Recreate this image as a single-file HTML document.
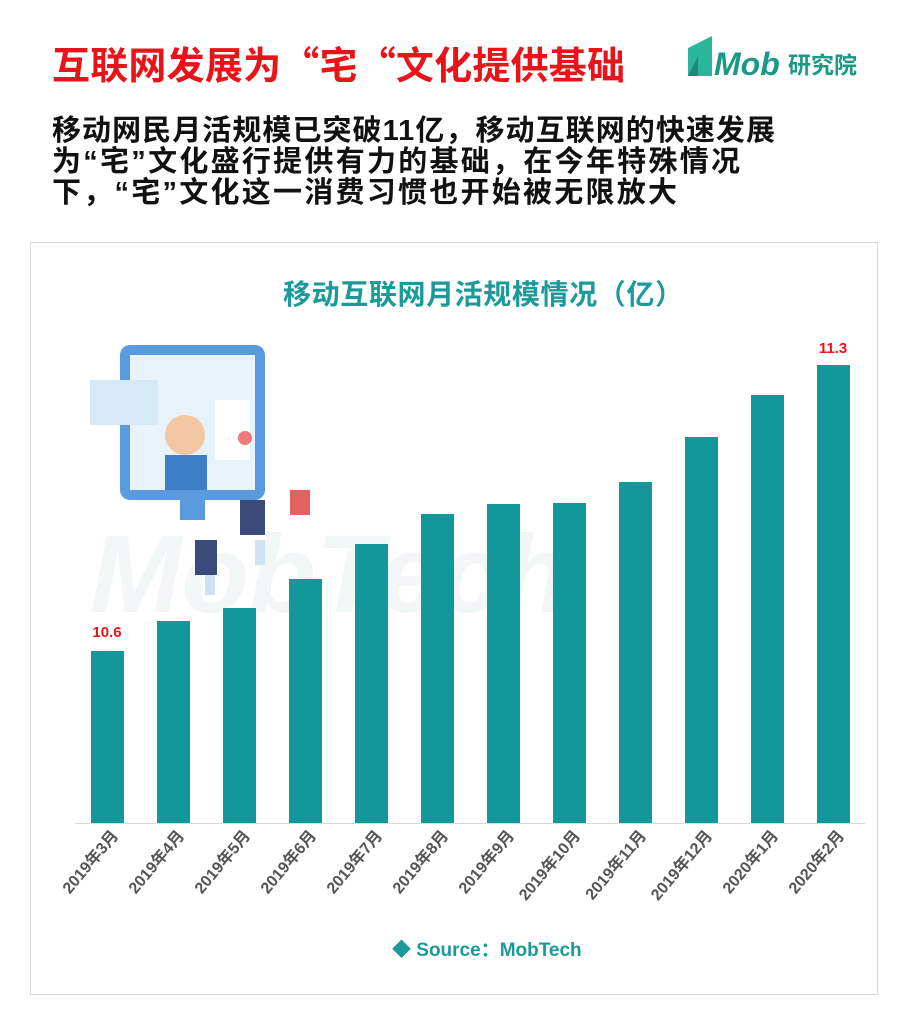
<!DOCTYPE html>
<html><head><meta charset="utf-8">
<style>
body{margin:0;width:908px;height:1024px;background:#fff;overflow:hidden;font-family:"Liberation Sans","Noto Sans CJK SC",sans-serif;}
</style></head><body>
<svg width="908" height="1024" xmlns="http://www.w3.org/2000/svg" style="position:absolute;left:0;top:0">
<text x="52" y="79" font-size="38" font-weight="bold" fill="#e8141a" textLength="573" lengthAdjust="spacing" font-family="Noto Sans CJK SC, sans-serif">互联网发展为“宅“文化提供基础</text>
<g>
<polygon points="688,76 688,48 712,36 712,76" fill="#2bb59a"/>
<polygon points="688,76 698,56 698,76" fill="#1a8a7a"/>
<text x="714" y="75" font-size="32" font-style="italic" font-weight="bold" fill="#1a9a86" font-family="Liberation Sans, sans-serif">Mob</text>
<text x="788" y="73" font-size="23" font-weight="bold" fill="#1a9a86" font-family="Noto Sans CJK SC, sans-serif">研究院</text>
</g>
<g font-size="29" font-weight="bold" fill="#111" font-family="Liberation Sans, Noto Sans CJK SC, sans-serif">
<text x="52" y="140" textLength="723" lengthAdjust="spacing">移动网民月活规模已突破11亿，移动互联网的快速发展</text>
<text x="52" y="171" textLength="688" lengthAdjust="spacing">为“宅”文化盛行提供有力的基础，在今年特殊情况</text>
<text x="52" y="202" textLength="625" lengthAdjust="spacing">下，“宅”文化这一消费习惯也开始被无限放大</text>
</g>
<rect x="30.5" y="242.5" width="847" height="752" fill="#fff" stroke="#d8d8d8"/>
<text x="283" y="304" textLength="400" lengthAdjust="spacing" font-size="28" font-weight="bold" fill="#1a9a9a" font-family="Noto Sans CJK SC, sans-serif">移动互联网月活规模情况（亿）</text>
<text x="90" y="612" font-size="110" font-style="italic" font-weight="bold" fill="#f3f6f6" font-family="Liberation Sans, sans-serif">MobTech</text>
<g>
<rect x="120" y="345" width="145" height="155" rx="10" fill="#5a9be0"/>
<rect x="130" y="355" width="125" height="135" fill="#e8f2fb"/>
<rect x="90" y="380" width="68" height="45" fill="#d5e8f6"/>
<circle cx="185" cy="435" r="20" fill="#f3c7a2"/>
<rect x="165" y="455" width="42" height="35" fill="#3c7fc6"/>
<rect x="215" y="400" width="35" height="60" fill="#ffffff"/>
<circle cx="245" cy="438" r="7" fill="#f07a7a"/>
<rect x="180" y="500" width="25" height="20" fill="#5a9be0"/>
<rect x="240" y="500" width="25" height="35" fill="#3a4a7a"/>
<rect x="290" y="490" width="20" height="25" fill="#e46060"/>
<rect x="195" y="540" width="22" height="35" fill="#3a4a7a"/>
<rect x="255" y="540" width="10" height="25" fill="#cfe2f3"/>
<rect x="205" y="575" width="10" height="20" fill="#cfe2f3"/>
</g>
<g fill="#12989b">
<rect x="91" y="651" width="33" height="172"/>
<rect x="157" y="621" width="33" height="202"/>
<rect x="223" y="608" width="33" height="215"/>
<rect x="289" y="579" width="33" height="244"/>
<rect x="355" y="544" width="33" height="279"/>
<rect x="421" y="514" width="33" height="309"/>
<rect x="487" y="504" width="33" height="319"/>
<rect x="553" y="503" width="33" height="320"/>
<rect x="619" y="482" width="33" height="341"/>
<rect x="685" y="437" width="33" height="386"/>
<rect x="751" y="395" width="33" height="428"/>
<rect x="817" y="365" width="33" height="458"/>
</g>
<line x1="75" y1="823.5" x2="865" y2="823.5" stroke="#d8d8d8"/>
<text x="107" y="637" text-anchor="middle" font-size="15" font-weight="bold" fill="#e8141a">10.6</text>
<text x="833" y="353" text-anchor="middle" font-size="15" font-weight="bold" fill="#e8141a">11.3</text>
<g font-size="16" font-weight="bold" fill="#555" text-anchor="end" font-family="Liberation Sans, Noto Sans CJK SC, sans-serif">
<text transform="translate(119,836) rotate(-50)">2019年3月</text>
<text transform="translate(185,836) rotate(-50)">2019年4月</text>
<text transform="translate(251,836) rotate(-50)">2019年5月</text>
<text transform="translate(317,836) rotate(-50)">2019年6月</text>
<text transform="translate(383,836) rotate(-50)">2019年7月</text>
<text transform="translate(449,836) rotate(-50)">2019年8月</text>
<text transform="translate(515,836) rotate(-50)">2019年9月</text>
<text transform="translate(581,836) rotate(-50)">2019年10月</text>
<text transform="translate(647,836) rotate(-50)">2019年11月</text>
<text transform="translate(713,836) rotate(-50)">2019年12月</text>
<text transform="translate(779,836) rotate(-50)">2020年1月</text>
<text transform="translate(845,836) rotate(-50)">2020年2月</text>
</g>
<text x="392" y="956" font-size="19" font-weight="bold" fill="#1a9a9a" font-family="Liberation Sans, Noto Sans CJK SC, sans-serif">◆ Source：MobTech</text>
</svg>
</body></html>
